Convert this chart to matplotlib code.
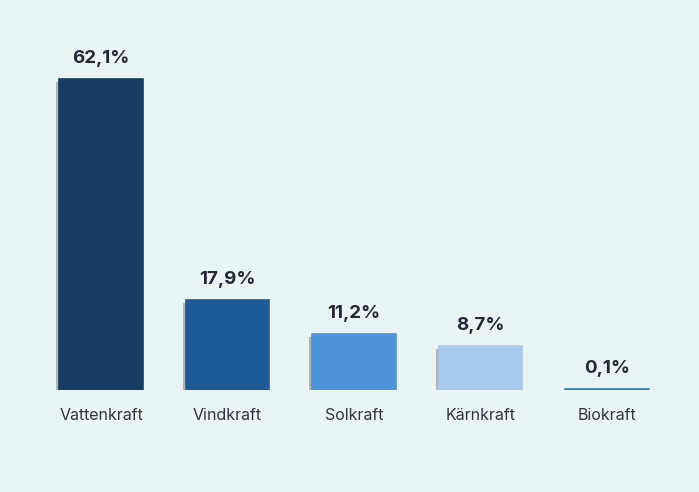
import matplotlib.pyplot as plt

categories = ["Vattenkraft", "Vindkraft", "Solkraft", "Kärnkraft", "Biokraft"]
values = [62.1, 17.9, 11.2, 8.7, 0.1]
labels = ["62,1%", "17,9%", "11,2%", "8,7%", "0,1%"]
colors = ["#173c61", "#1f5c97", "#4d94da", "#a7caec", "#3382b6"]

bg = "#e9f5f5"
fig = plt.figure(figsize=(6.99, 4.92), dpi=100, facecolor=bg)
ax = fig.add_axes([0, 102 / 492, 1, 390 / 492])
ax.set_facecolor(bg)

px_x = 126.5  # pixels per category
px_y = 5.01   # pixels per percent
x = list(range(len(categories)))

# shadow
for i, v in enumerate(values):
    if v > 1:
        ax.bar(i - 3 / px_x, v - 3 / px_y, width=0.664, color="#b3b3b3", zorder=1)

ax.bar(x, values, width=0.664, color=colors, edgecolor=colors, linewidth=1.2, zorder=2)

for i, v in enumerate(values):
    ax.annotate(labels[i], (i, v), xytext=(0, 15), textcoords="offset points",
                ha="center", va="center", fontsize=13.5, fontweight="bold",
                family="Inter", color="#262637")
    ax.text(i, -25 / px_y, categories[i], ha="center", va="center",
            fontsize=11.5, family="Inter", color="#333340", clip_on=False)

ax.set_xlim(-101 / px_x, (699 - 101) / px_x)
ax.set_ylim(0, 390 / px_y)
ax.axis("off")

fig.savefig("out.png", facecolor=bg)
